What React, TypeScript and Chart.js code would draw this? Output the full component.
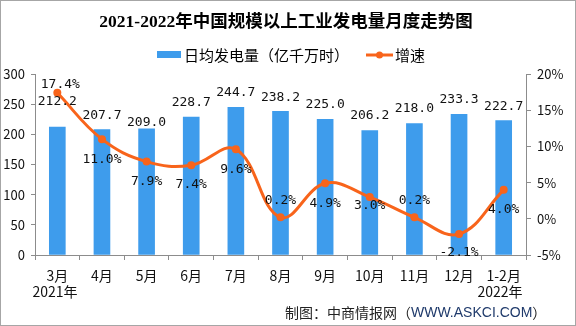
import React, { useEffect, useRef } from 'react';
import { Chart, registerables } from 'chart.js';

Chart.register(...registerables);

const categories = ['3月', '4月', '5月', '6月', '7月', '8月', '9月', '10月', '11月', '12月', '1-2月'];
const dailyOutput = [212.2, 207.7, 209.0, 228.7, 244.7, 238.2, 225.0, 206.2, 218.0, 233.3, 222.7];
const growth = [17.4, 11.0, 7.9, 7.4, 9.6, 0.2, 4.9, 3.0, 0.2, -2.1, 4.0];
const leftAxis = { min: 0, max: 300, step: 50 };
const rightAxis = { min: -5, max: 20, step: 5 };
const yearStart = '2021年';
const yearEnd = '2022年';
const titleText = '2021-2022年中国规模以上工业发电量月度走势图';
const barName = '日均发电量（亿千万时）';
const lineName = '增速';
const sourceCn = '制图：中商情报网（';
const sourceUrl = 'WWW.ASKCI.COM';
const sourceEnd = '）';

// label nudges (style only)
const barLabelLift = [25, 14, 6, 14, 15, 14, 15, 15, 15, 15, 14];
const lineLabelShift = [-8, 20, 20, 19, 20, -17, 20, 8.5, -17, 19, 20];

const BLUE = '#3E9CEC';
const ORANGE = '#F8641B';
const AXIS = '#8C8C8C';
const CJK = "'Noto Sans CJK SC', 'Liberation Sans', sans-serif";
const MONO = "'DejaVu Sans Mono', monospace";

const decorPlugin = {
  id: 'decor',
  afterDatasetsDraw(chart: any) {
    const ctx = chart.ctx;
    ctx.save();
    // bar labels
    ctx.font = `13px ${MONO}`;
    ctx.fillStyle = '#111';
    ctx.textAlign = 'center';
    ctx.textBaseline = 'middle';
    const barMeta = chart.getDatasetMeta(0);
    barMeta.data.forEach((el: any, i: number) => {
      ctx.fillText(dailyOutput[i].toFixed(1), el.x, el.y - barLabelLift[i]);
    });
    const lineMeta = chart.getDatasetMeta(1);
    lineMeta.data.forEach((el: any, i: number) => {
      ctx.fillText(growth[i].toFixed(1) + '%', el.x + (i === 0 ? 3 : 0), el.y + lineLabelShift[i]);
    });
    ctx.restore();
  },
  afterDraw(chart: any) {
    const ctx = chart.ctx;
    const W = chart.width;
    const H = chart.height;
    ctx.save();
    // title
    ctx.fillStyle = '#000';
    ctx.textAlign = 'center';
    ctx.textBaseline = 'middle';
    ctx.font = `bold 17.5px 'Liberation Serif', 'Noto Sans CJK SC', serif`;
    ctx.fillText(titleText, 286, 22);
    // legend
    ctx.textAlign = 'left';
    ctx.fillStyle = BLUE;
    ctx.fillRect(157, 51, 24, 7);
    ctx.font = `15px ${CJK}`;
    ctx.fillStyle = '#000';
    ctx.fillText(barName, 184, 55);
    ctx.strokeStyle = ORANGE;
    ctx.lineWidth = 3;
    ctx.beginPath();
    ctx.moveTo(366, 55);
    ctx.lineTo(393, 55);
    ctx.stroke();
    ctx.fillStyle = ORANGE;
    ctx.beginPath();
    ctx.arc(379.5, 55, 3.5, 0, Math.PI * 2);
    ctx.fill();
    ctx.fillStyle = '#000';
    ctx.fillText(lineName, 395, 55);
    // year labels
    ctx.textAlign = 'center';
    ctx.font = `14px ${CJK}`;
    ctx.fillStyle = '#111';
    ctx.fillText(yearStart, 55, 292);
    ctx.fillText(yearEnd, 500, 292);
    // source
    ctx.textAlign = 'left';
    ctx.font = `14px ${CJK}`;
    let x = 285;
    ctx.fillStyle = '#222';
    ctx.fillText(sourceCn, x, 313);
    x += ctx.measureText(sourceCn).width;
    ctx.font = `14px 'Liberation Sans', sans-serif`;
    ctx.fillStyle = '#1F3A6B';
    ctx.fillText(sourceUrl, x, 313);
    x += ctx.measureText(sourceUrl).width;
    ctx.font = `14px ${CJK}`;
    ctx.fillStyle = '#222';
    ctx.fillText(sourceEnd, x, 313);
    // border
    ctx.strokeStyle = '#A6A6A6';
    ctx.lineWidth = 1;
    ctx.strokeRect(0.5, 0.5, W - 1, H - 1);
    ctx.restore();
  },
};

export default function App() {
  const ref = useRef<HTMLCanvasElement | null>(null);
  useEffect(() => {
    if (!ref.current) return;
    const tickFont = { family: CJK, size: 13 };
    const chart = new Chart(ref.current, {
      type: 'bar',
      data: {
        labels: categories,
        datasets: [
          {
            type: 'bar',
            label: barName,
            data: dailyOutput,
            backgroundColor: BLUE,
            barThickness: 16,
            yAxisID: 'y',
            order: 1,
          },
          {
            type: 'line',
            label: lineName,
            data: growth,
            borderColor: ORANGE,
            backgroundColor: ORANGE,
            borderWidth: 3,
            pointRadius: 4,
            pointBackgroundColor: ORANGE,
            pointBorderWidth: 0,
            tension: 0.4,
            yAxisID: 'y1',
            order: 0,
          },
        ],
      } as any,
      options: {
        animation: false,
        responsive: false,
        maintainAspectRatio: false,
        layout: { padding: { top: 74, left: 0, right: 0, bottom: 0 } },
        plugins: {
          legend: { display: false },
          title: { display: false },
          tooltip: { enabled: false },
        },
        scales: {
          x: {
            grid: { display: true, drawOnChartArea: false, tickLength: 5, color: AXIS, offset: true },
            border: { display: true, color: AXIS },
            ticks: { font: { family: CJK, size: 14 }, color: '#111', padding: 7, maxRotation: 0, autoSkip: false },
            afterFit: (s: any) => { s.height = 71; },
          },
          y: {
            position: 'left',
            min: leftAxis.min,
            max: leftAxis.max,
            ticks: { stepSize: leftAxis.step, font: tickFont, color: '#111', padding: 6 },
            grid: { display: true, drawOnChartArea: false, tickLength: 4, color: AXIS },
            border: { display: true, color: AXIS },
            afterFit: (s: any) => { s.width = 35; },
          },
          y1: {
            position: 'right',
            min: rightAxis.min,
            max: rightAxis.max,
            ticks: {
              stepSize: rightAxis.step,
              font: tickFont,
              color: '#111',
              padding: 6,
              callback: (v: any) => `${v}%`,
            },
            grid: { display: true, drawOnChartArea: false, tickLength: 5, color: AXIS },
            border: { display: true, color: AXIS },
            afterFit: (s: any) => { s.width = 50; },
          },
        },
      } as any,
      plugins: [decorPlugin],
    });
    return () => chart.destroy();
  }, []);
  return (
    <div style={{ position: 'absolute', left: 0, top: 0, width: 576, height: 326, background: '#fff' }}>
      <canvas ref={ref} width={576} height={326} style={{ display: 'block', width: 576, height: 326 }} />
    </div>
  );
}
